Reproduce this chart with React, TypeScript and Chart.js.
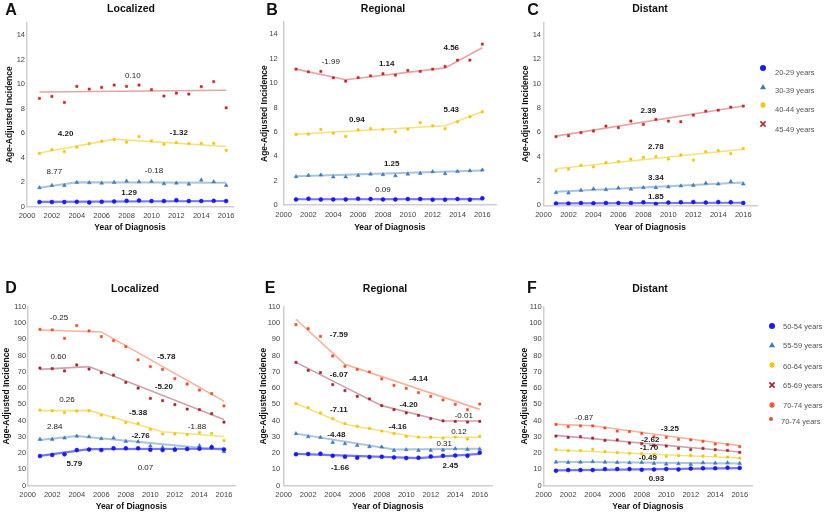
import React, { useEffect, useRef } from 'react';
import { Chart, registerables } from 'chart.js';
Chart.register(...registerables);

const FONT = '"Liberation Sans", Arial, sans-serif';
Chart.defaults.font.family = FONT;

const YEARS = [2001, 2002, 2003, 2004, 2005, 2006, 2007, 2008, 2009, 2010, 2011, 2012, 2013, 2014, 2015, 2016];
const X_TICK_STEP = 2;
const X_TICK_LAST = 2016;

// ---- Panel A: Localized, ages 20-49 ----
const A_20_29 = [0.36, 0.36, 0.36, 0.38, 0.33, 0.38, 0.41, 0.46, 0.49, 0.44, 0.44, 0.52, 0.44, 0.44, 0.46, 0.44];
const A_20_29_FIT = [[2001, 0.37], [2016, 0.45]];
const A_30_39 = [1.53, 1.72, 1.72, 1.97, 1.94, 1.91, 1.97, 2.08, 2.02, 2.05, 1.86, 1.91, 1.83, 2.16, 2.02, 1.72];
const A_30_39_FIT = [[2001, 1.53], [2004, 1.97], [2016, 1.93]];
const A_40_44 = [4.34, 4.64, 4.48, 4.84, 5.14, 5.33, 5.46, 5.25, 5.71, 5.36, 5.08, 5.22, 5.14, 5.16, 5.16, 4.59];
const A_40_44_FIT = [[2001, 4.37], [2007, 5.5], [2016, 4.9]];
const A_45_49 = [8.83, 8.99, 8.5, 9.81, 9.59, 9.73, 9.92, 9.81, 9.92, 9.54, 9.02, 9.26, 9.18, 9.78, 10.19, 8.06];
const A_45_49_FIT = [[2001, 9.35], [2016, 9.49]];
const A_APC = [
  { text: '0.10', x: 2008.5, y: 10.7, bold: false },
  { text: '4.20', x: 2003.1, y: 5.9, bold: true },
  { text: '-1.32', x: 2012.2, y: 6.05, bold: true },
  { text: '8.77', x: 2002.2, y: 2.8, bold: false },
  { text: '-0.18', x: 2010.2, y: 2.9, bold: false },
  { text: '1.29', x: 2008.2, y: 1.1, bold: true },
];

// ---- Panel B: Regional, ages 20-49 ----
const B_20_29 = [0.46, 0.52, 0.46, 0.46, 0.46, 0.52, 0.49, 0.46, 0.46, 0.49, 0.49, 0.44, 0.44, 0.49, 0.44, 0.55];
const B_20_29_FIT = [[2001, 0.47], [2016, 0.48]];
const B_30_39 = [2.32, 2.43, 2.46, 2.3, 2.3, 2.43, 2.54, 2.49, 2.4, 2.54, 2.6, 2.73, 2.57, 2.76, 2.81, 2.87];
const B_30_39_FIT = [[2001, 2.36], [2016, 2.84]];
const B_40_44 = [5.79, 5.82, 6.2, 5.9, 5.63, 6.17, 6.26, 6.2, 6.01, 6.23, 6.75, 6.5, 6.26, 6.83, 7.24, 7.65];
const B_40_44_FIT = [[2001, 5.8], [2013, 6.5], [2016, 7.65]];
const B_45_49 = [11.15, 10.93, 10.96, 10.44, 10.16, 10.46, 10.6, 10.77, 10.66, 11.04, 10.96, 11.15, 11.37, 11.89, 11.89, 13.2];
const B_45_49_FIT = [[2001, 11.15], [2005, 10.28], [2013, 11.25], [2016, 12.9]];
const B_APC = [
  { text: '-1.99', x: 2003.8, y: 11.75, bold: false },
  { text: '1.14', x: 2008.3, y: 11.56, bold: true },
  { text: '4.56', x: 2013.5, y: 12.92, bold: true },
  { text: '0.94', x: 2005.9, y: 7.02, bold: true },
  { text: '5.43', x: 2013.5, y: 7.79, bold: true },
  { text: '1.25', x: 2008.7, y: 3.36, bold: true },
  { text: '0.09', x: 2008.0, y: 1.23, bold: false },
];

// ---- Panel C: Distant, ages 20-49 ----
const C_20_29 = [0.14, 0.14, 0.19, 0.16, 0.19, 0.19, 0.19, 0.25, 0.11, 0.22, 0.25, 0.27, 0.22, 0.27, 0.25, 0.19];
const C_20_29_FIT = [[2001, 0.16], [2016, 0.21]];
const C_30_39 = [1.04, 1.01, 1.23, 1.34, 1.29, 1.42, 1.32, 1.45, 1.45, 1.51, 1.59, 1.64, 1.81, 1.75, 1.95, 1.75];
const C_30_39_FIT = [[2001, 1.12], [2016, 1.88]];
const C_40_44 = [2.85, 2.98, 3.28, 3.15, 3.5, 3.59, 3.8, 3.93, 3.99, 3.8, 4.13, 3.71, 4.4, 4.49, 4.25, 4.66];
const C_40_44_FIT = [[2001, 3.0], [2016, 4.6]];
const C_45_49 = [5.63, 5.71, 5.96, 6.1, 6.51, 6.37, 6.92, 6.64, 7.05, 6.92, 6.86, 7.4, 7.73, 7.81, 8.06, 8.15];
const C_45_49_FIT = [[2001, 5.68], [2016, 8.15]];
const C_APC = [
  { text: '2.39', x: 2008.4, y: 7.78, bold: true },
  { text: '2.78', x: 2009.0, y: 4.79, bold: true },
  { text: '3.34', x: 2009.0, y: 2.27, bold: true },
  { text: '1.85', x: 2009.0, y: 0.68, bold: true },
];

// ---- Panel D: Localized, ages 50-74 ----
const D_50_54 = [18.2, 18.9, 19.3, 21.9, 22.3, 21.9, 23.0, 23.0, 23.0, 22.1, 21.9, 22.1, 22.5, 22.7, 23.6, 22.3];
const D_50_54_FIT = [[2001, 18.3], [2005, 22.5], [2016, 22.7]];
const D_55_59 = [28.5, 28.5, 29.3, 30.5, 30.1, 28.9, 29.3, 27.3, 27.0, 24.4, 23.6, 22.7, 22.7, 24.6, 24.0, 20.9];
const D_55_59_FIT = [[2001, 28.1], [2004, 30.6], [2016, 21.9]];
const D_60_64 = [46.5, 46.1, 44.9, 45.9, 46.1, 43.4, 42.0, 38.9, 38.3, 34.6, 31.8, 31.8, 31.4, 32.6, 32.2, 27.7];
const D_60_64_FIT = [[2001, 46.1], [2005, 46.3], [2011, 33.2], [2016, 30.2]];
const D_65_69 = [72.3, 71.9, 70.5, 74.2, 71.7, 69.5, 68.0, 63.5, 60.0, 53.7, 52.3, 49.8, 47.1, 46.7, 44.3, 39.1];
const D_65_69_FIT = [[2001, 71.5], [2005, 73.2], [2016, 40.7]];
const D_70_74 = [96.1, 95.7, 90.6, 98.4, 95.1, 91.6, 89.1, 85.5, 77.3, 73.2, 71.5, 65.8, 62.5, 58.8, 56.6, 49.0];
const D_70_74_FIT = [[2001, 95.7], [2006, 94.5], [2016, 52.0]];
const D_APC = [
  { text: '-0.25', x: 2002.55, y: 102.9, bold: false },
  { text: '0.60', x: 2002.5, y: 79.3, bold: false },
  { text: '-5.78', x: 2011.3, y: 79.3, bold: true },
  { text: '-5.20', x: 2011.1, y: 60.5, bold: true },
  { text: '0.26', x: 2003.2, y: 52.7, bold: false },
  { text: '-5.38', x: 2009.0, y: 44.9, bold: true },
  { text: '-1.88', x: 2013.8, y: 36.3, bold: false },
  { text: '2.84', x: 2002.2, y: 36.3, bold: false },
  { text: '-2.76', x: 2009.2, y: 30.5, bold: true },
  { text: '5.79', x: 2003.8, y: 13.3, bold: true },
  { text: '0.07', x: 2009.6, y: 10.7, bold: false },
];

// ---- Panel E: Regional, ages 50-74 ----
const E_50_54 = [19.3, 19.5, 19.7, 18.4, 17.8, 17.2, 17.6, 17.8, 17.4, 17.0, 17.2, 18.0, 18.4, 18.6, 18.4, 20.3];
const E_50_54_FIT = [[2001, 19.6], [2011, 17.0], [2016, 19.5]];
const E_55_59 = [32.0, 30.1, 29.7, 26.6, 25.8, 24.8, 24.0, 23.8, 21.7, 22.1, 21.7, 21.7, 21.9, 22.7, 22.3, 22.5];
const E_55_59_FIT = [[2001, 32.0], [2009, 22.2], [2016, 22.7]];
const E_60_64 = [50.4, 48.0, 44.7, 41.2, 38.1, 36.5, 35.2, 33.6, 32.0, 30.3, 29.9, 29.9, 29.3, 29.9, 28.7, 30.3];
const E_60_64_FIT = [[2001, 50.5], [2005, 37.8], [2011, 29.6], [2016, 29.8]];
const E_65_69 = [75.8, 70.9, 69.5, 62.1, 58.4, 54.9, 53.3, 49.2, 46.7, 44.7, 43.2, 41.2, 39.8, 39.5, 39.1, 39.5];
const E_65_69_FIT = [[2001, 75.8], [2008, 49.2], [2013, 39.8], [2016, 39.8]];
const E_70_74 = [99.0, 96.5, 91.8, 79.7, 73.4, 71.5, 69.9, 65.6, 61.7, 59.8, 57.2, 54.9, 52.7, 50.0, 46.7, 50.2];
const E_70_74_FIT = [[2001, 102.3], [2005, 74.6], [2016, 46.9]];
const E_APC = [
  { text: '-7.59', x: 2004.5, y: 92.6, bold: true },
  { text: '-6.07', x: 2004.5, y: 68.0, bold: true },
  { text: '-4.14', x: 2011.0, y: 66.0, bold: true },
  { text: '-7.11', x: 2004.5, y: 46.5, bold: true },
  { text: '-4.20', x: 2010.2, y: 49.6, bold: true },
  { text: '-0.01', x: 2014.7, y: 42.8, bold: false },
  { text: '-4.48', x: 2004.3, y: 31.4, bold: true },
  { text: '-4.16', x: 2009.3, y: 36.3, bold: true },
  { text: '0.12', x: 2014.3, y: 33.0, bold: false },
  { text: '0.31', x: 2013.1, y: 25.6, bold: false },
  { text: '-1.66', x: 2004.6, y: 11.3, bold: true },
  { text: '2.45', x: 2013.6, y: 12.3, bold: true },
];

// ---- Panel F: Distant, ages 50-74 ----
const F_50_54 = [9.2, 9.6, 9.6, 9.6, 10.2, 10.2, 10.2, 9.8, 10.0, 10.2, 10.0, 10.5, 10.7, 10.7, 11.1, 10.9];
const F_50_54_FIT = [[2001, 9.4], [2016, 10.8]];
const F_55_59 = [14.5, 14.3, 14.5, 14.8, 14.5, 14.3, 14.1, 14.3, 13.7, 13.3, 13.5, 13.1, 14.1, 13.9, 14.1, 13.7];
const F_55_59_FIT = [[2001, 14.7], [2016, 13.7]];
const F_60_64 = [22.1, 21.5, 21.5, 22.3, 20.9, 20.3, 19.9, 19.7, 19.3, 18.0, 18.4, 18.6, 18.2, 18.6, 17.6, 17.0];
const F_60_64_FIT = [[2001, 21.9], [2016, 17.0]];
const F_65_69 = [30.5, 29.7, 30.1, 29.3, 27.9, 28.1, 26.2, 25.8, 24.6, 24.4, 23.0, 22.1, 23.0, 22.1, 21.7, 20.5];
const F_65_69_FIT = [[2001, 30.9], [2016, 20.75]];
const F_70_74 = [37.7, 36.3, 36.7, 36.7, 35.5, 33.6, 33.2, 32.2, 30.1, 29.7, 28.5, 28.1, 27.3, 25.6, 25.2, 24.0];
const F_70_74_FIT = [[2001, 37.7], [2004, 36.8], [2016, 24.5]];
const F_APC = [
  { text: '-0.87', x: 2003.3, y: 42.0, bold: false },
  { text: '-3.25', x: 2010.3, y: 34.8, bold: true },
  { text: '-2.62', x: 2008.7, y: 28.5, bold: true },
  { text: '-1.70', x: 2008.6, y: 23.0, bold: true },
  { text: '-0.49', x: 2008.5, y: 17.0, bold: true },
  { text: '0.93', x: 2009.2, y: 4.5, bold: true },
];

const LEGEND_YOUNG = ['20-29 years', '30-39 years', '40-44 years', '45-49 years'];
const LEGEND_OLD = ['50-54 years', '55-59 years', '60-64 years', '65-69 years', '70-74 years', '70-74 years'];

// ---- styles ----
const STYLE: Record<string, any> = {
  blue: { pt: '#1a1aee', line: 'rgba(95,95,250,0.85)', lw: 2.2, ps: 'circle', r: 2.0 },
  steel: { pt: '#3f7bb8', line: '#a9c4e0', lw: 2, ps: 'triangle', r: 2.2 },
  yellow: { pt: '#f2c400', line: '#f6e182', lw: 1.6, ps: 'rect', r: 1.6 },
  red: { pt: '#c0282d', line: '#e9a3a3', lw: 1.6, ps: 'rect', r: 1.6 },
  dred: { pt: '#a2222e', line: '#cfa1aa', lw: 1.6, ps: 'rect', r: 1.6 },
  orange: { pt: '#f04a26', line: '#f7b19c', lw: 1.6, ps: 'rect', r: 1.6 },
};

type Panel = {
  letter: string; name: string;
  canvas: number[]; area: { l: number; r: number; t: number; b: number };
  xmax: number; ymax: number; ystep: number; ytop: number;
  yTitleX: number; xTitleY: number; tickPad: number;
  series: { kind: string; pts: number[]; fit: number[][] }[];
  apc: { text: string; x: number; y: number; bold: boolean }[];
  letterPos: number[]; namePos: number[];
  legend?: { labels: string[]; marks: string[]; mx: number[]; my: number[]; tx: number[]; ty: number[] };
};

const PANELS: Panel[] = [
  {
    letter: 'A', name: 'Localized', canvas: [0, 0, 265, 245], area: { l: 27, r: 233, t: 22.8, b: 206.5 },
    xmax: 2016.55, ymax: 15, ystep: 2, ytop: 14, yTitleX: 10, xTitleY: 228, tickPad: 2,
    series: [
      { kind: 'blue', pts: A_20_29, fit: A_20_29_FIT },
      { kind: 'steel', pts: A_30_39, fit: A_30_39_FIT },
      { kind: 'yellow', pts: A_40_44, fit: A_40_44_FIT },
      { kind: 'red', pts: A_45_49, fit: A_45_49_FIT },
    ],
    apc: A_APC, letterPos: [11, 10], namePos: [131, 8],
  },
  {
    letter: 'B', name: 'Regional', canvas: [255, 0, 270, 245], area: { l: 283.6, r: 496, t: 22.2, b: 205 },
    xmax: 2017.1, ymax: 15, ystep: 2, ytop: 14, yTitleX: 265, xTitleY: 228, tickPad: 6,
    series: [
      { kind: 'blue', pts: B_20_29, fit: B_20_29_FIT },
      { kind: 'steel', pts: B_30_39, fit: B_30_39_FIT },
      { kind: 'yellow', pts: B_40_44, fit: B_40_44_FIT },
      { kind: 'red', pts: B_45_49, fit: B_45_49_FIT },
    ],
    apc: B_APC, letterPos: [272, 10], namePos: [383, 8],
  },
  {
    letter: 'C', name: 'Distant', canvas: [515, 0, 310, 245], area: { l: 543.5, r: 757, t: 22.6, b: 205.3 },
    xmax: 2017.1, ymax: 15, ystep: 2, ytop: 14, yTitleX: 526, xTitleY: 228, tickPad: 2.5,
    series: [
      { kind: 'blue', pts: C_20_29, fit: C_20_29_FIT },
      { kind: 'steel', pts: C_30_39, fit: C_30_39_FIT },
      { kind: 'yellow', pts: C_40_44, fit: C_40_44_FIT },
      { kind: 'red', pts: C_45_49, fit: C_45_49_FIT },
    ],
    apc: C_APC, letterPos: [533, 10], namePos: [650, 8],
    legend: {
      labels: LEGEND_YOUNG, marks: ['circle:blue', 'triangle:steel', 'star:yellow', 'crossRot:red'],
      mx: [763, 763, 763, 763], my: [68, 87, 105, 124], tx: [775, 775, 775, 775], ty: [73, 91, 110, 130],
    },
  },
  {
    letter: 'D', name: 'Localized', canvas: [0, 255, 262, 260], area: { l: 27.7, r: 235, t: 306.7, b: 485.7 },
    xmax: 2016.9, ymax: 110, ystep: 10, ytop: 110, yTitleX: 7, xTitleY: 507, tickPad: 1.5,
    series: [
      { kind: 'blue', pts: D_50_54, fit: D_50_54_FIT },
      { kind: 'steel', pts: D_55_59, fit: D_55_59_FIT },
      { kind: 'yellow', pts: D_60_64, fit: D_60_64_FIT },
      { kind: 'dred', pts: D_65_69, fit: D_65_69_FIT },
      { kind: 'orange', pts: D_70_74, fit: D_70_74_FIT },
    ],
    apc: D_APC, letterPos: [11, 288], namePos: [135, 288],
  },
  {
    letter: 'E', name: 'Regional', canvas: [255, 255, 270, 260], area: { l: 283.7, r: 492, t: 306.7, b: 485.7 },
    xmax: 2017, ymax: 110, ystep: 10, ytop: 110, yTitleX: 264, xTitleY: 507, tickPad: 3.5,
    series: [
      { kind: 'blue', pts: E_50_54, fit: E_50_54_FIT },
      { kind: 'steel', pts: E_55_59, fit: E_55_59_FIT },
      { kind: 'yellow', pts: E_60_64, fit: E_60_64_FIT },
      { kind: 'dred', pts: E_65_69, fit: E_65_69_FIT },
      { kind: 'orange', pts: E_70_74, fit: E_70_74_FIT },
    ],
    apc: E_APC, letterPos: [270, 288], namePos: [385, 288],
  },
  {
    letter: 'F', name: 'Distant', canvas: [515, 255, 310, 260], area: { l: 543.7, r: 752, t: 306.7, b: 485.7 },
    xmax: 2017, ymax: 110, ystep: 10, ytop: 110, yTitleX: 525, xTitleY: 507, tickPad: 2,
    series: [
      { kind: 'blue', pts: F_50_54, fit: F_50_54_FIT },
      { kind: 'steel', pts: F_55_59, fit: F_55_59_FIT },
      { kind: 'yellow', pts: F_60_64, fit: F_60_64_FIT },
      { kind: 'dred', pts: F_65_69, fit: F_65_69_FIT },
      { kind: 'orange', pts: F_70_74, fit: F_70_74_FIT },
    ],
    apc: F_APC, letterPos: [532, 288], namePos: [650, 288],
    legend: {
      labels: LEGEND_OLD, marks: ['circle:blue', 'triangle:steel', 'star:yellow', 'crossRot:dred', 'star:orange', 'dot:orange'],
      mx: [772, 772, 772, 772, 772, 771], my: [326, 345, 365, 385, 405, 419],
      tx: [783, 783, 783, 783, 783, 781], ty: [327, 346, 367, 386, 406, 422],
    },
  },
];

function drawMarker(ctx: CanvasRenderingContext2D, shape: string, color: string, x: number, y: number) {
  ctx.save();
  ctx.fillStyle = color;
  ctx.strokeStyle = color;
  ctx.lineWidth = 1.2;
  ctx.beginPath();
  if (shape === 'circle') {
    ctx.arc(x, y, 3, 0, Math.PI * 2);
    ctx.fill();
  } else if (shape === 'dot') {
    ctx.arc(x, y, 2, 0, Math.PI * 2);
    ctx.fill();
  } else if (shape === 'triangle') {
    ctx.moveTo(x, y - 3);
    ctx.lineTo(x + 3, y + 2.2);
    ctx.lineTo(x - 3, y + 2.2);
    ctx.closePath();
    ctx.fill();
  } else if (shape === 'star') {
    for (let k = 0; k < 4; k++) {
      const a = (k * Math.PI) / 4;
      ctx.moveTo(x - 3 * Math.cos(a), y - 3 * Math.sin(a));
      ctx.lineTo(x + 3 * Math.cos(a), y + 3 * Math.sin(a));
    }
    ctx.stroke();
  } else if (shape === 'crossRot') {
    ctx.moveTo(x - 2.6, y - 2.6);
    ctx.lineTo(x + 2.6, y + 2.6);
    ctx.moveTo(x + 2.6, y - 2.6);
    ctx.lineTo(x - 2.6, y + 2.6);
    ctx.lineWidth = 1.6;
    ctx.stroke();
  }
  ctx.restore();
}

function makeChart(canvas: HTMLCanvasElement, p: Panel) {
  const [cl, ct, cw, ch] = p.canvas;
  const yTitleSize = 8.5;
  const half = (yTitleSize * 1.2) / 2;
  const yW = p.area.l - cl;
  const padTop = p.area.t - ct;
  const padRight = cl + cw - p.area.r;
  const xH = p.xTitleY - p.area.b + half + 2;
  const padBottom = ct + ch - p.area.b - xH;
  const yTitlePad = Math.max(0, p.yTitleX - cl - half);

  const datasets: any[] = [];
  p.series.forEach((s) => {
    const st = STYLE[s.kind];
    datasets.push({
      data: YEARS.map((x, i) => ({ x, y: s.pts[i] })),
      pointStyle: st.ps,
      pointRadius: st.r,
      backgroundColor: st.pt,
      borderColor: st.pt,
      borderWidth: 0.5,
      showLine: false,
      order: 0,
    });
  });
  p.series.forEach((s) => {
    const st = STYLE[s.kind];
    datasets.push({
      data: s.fit.map(([x, y]) => ({ x, y })),
      showLine: true,
      pointRadius: 0,
      borderColor: st.line,
      borderWidth: st.lw,
      tension: 0,
      order: 1,
    });
  });

  const overlay = {
    id: 'overlay' + p.letter,
    afterDatasetsDraw(chart: any) {
      const ctx = chart.ctx as CanvasRenderingContext2D;
      const xs = chart.scales.x;
      const ys = chart.scales.y;
      ctx.save();
      ctx.fillStyle = '#1a1a1a';
      ctx.textAlign = 'center';
      ctx.textBaseline = 'middle';
      p.apc.forEach((l) => {
        ctx.font = `${l.bold ? 'bold ' : ''}8px ${FONT}`;
        ctx.fillText(l.text, xs.getPixelForValue(l.x), ys.getPixelForValue(l.y));
      });
      ctx.restore();
      if (p.legend) {
        const lg = p.legend;
        ctx.save();
        ctx.font = `7.5px ${FONT}`;
        ctx.textAlign = 'left';
        ctx.textBaseline = 'middle';
        lg.labels.forEach((lab, i) => {
          const [shape, kind] = lg.marks[i].split(':');
          drawMarker(ctx, shape, STYLE[kind].pt, lg.mx[i] - cl, lg.my[i] - ct);
          ctx.fillStyle = '#555';
          ctx.fillText(lab, lg.tx[i] - cl, lg.ty[i] - ct);
        });
        ctx.restore();
      }
    },
  };

  const border = { display: true, color: '#cfcfcf', width: 1.5 };
  return new Chart(canvas, {
    type: 'scatter',
    data: { datasets },
    plugins: [overlay],
    options: {
      responsive: false,
      animation: false,
      events: [],
      layout: { padding: { left: 0, top: padTop, right: padRight, bottom: padBottom } },
      plugins: { legend: { display: false }, tooltip: { enabled: false }, title: { display: false } },
      scales: {
        x: {
          type: 'linear',
          min: 2000,
          max: p.xmax,
          bounds: 'data',
          grid: { display: false, drawTicks: false },
          border,
          afterBuildTicks: (s: any) => {
            s.ticks = s.ticks.filter((t: any) => t.value <= X_TICK_LAST && Math.abs(t.value % X_TICK_STEP) < 1e-6);
          },
          ticks: {
            stepSize: X_TICK_STEP,
            includeBounds: false,
            autoSkip: false,
            maxRotation: 0,
            font: { size: 7.5 },
            color: '#444',
            padding: 5,
            callback: (v: any) => String(v),
          },
          title: {
            display: true,
            text: 'Year of Diagnosis',
            font: { size: yTitleSize, weight: 'bold' },
            color: '#111',
            padding: { top: 0, bottom: 2 },
          },
          afterFit: (s: any) => { s.height = xH; },
        },
        y: {
          type: 'linear',
          min: 0,
          max: p.ymax,
          bounds: 'data',
          grid: { display: false, drawTicks: false },
          border,
          afterBuildTicks: (s: any) => {
            s.ticks = s.ticks.filter((t: any) => t.value <= p.ytop && Math.abs(t.value % p.ystep) < 1e-6);
          },
          ticks: {
            stepSize: p.ystep,
            includeBounds: false,
            font: { size: 7.5 },
            color: '#444',
            padding: p.tickPad,
          },
          title: {
            display: true,
            text: 'Age-Adjusted Incidence',
            font: { size: yTitleSize, weight: 'bold' },
            color: '#111',
            padding: { top: yTitlePad, bottom: 0 },
          },
          afterFit: (s: any) => { s.width = yW; },
        },
      },
    } as any,
  });
}

export default function App() {
  const refs = useRef<(HTMLCanvasElement | null)[]>([]);
  useEffect(() => {
    const charts = PANELS.map((p, i) => makeChart(refs.current[i] as HTMLCanvasElement, p));
    return () => charts.forEach((c) => c.destroy());
  }, []);
  return (
    <div style={{ position: 'fixed', left: 0, top: 0, width: 825, height: 515, background: '#fff', overflow: 'hidden', fontFamily: FONT }}>
      {PANELS.map((p, i) => (
        <React.Fragment key={p.letter}>
          <canvas
            ref={(el) => { refs.current[i] = el; }}
            width={p.canvas[2]}
            height={p.canvas[3]}
            style={{ position: 'absolute', left: p.canvas[0], top: p.canvas[1], width: p.canvas[2], height: p.canvas[3] }}
          />
          <div style={{ position: 'absolute', left: p.letterPos[0], top: p.letterPos[1], transform: 'translate(-50%,-50%)', fontSize: 16, fontWeight: 'bold', color: '#111', lineHeight: 1 }}>{p.letter}</div>
          <div style={{ position: 'absolute', left: p.namePos[0], top: p.namePos[1], transform: 'translate(-50%,-50%)', fontSize: 10.5, fontWeight: 'bold', color: '#111', lineHeight: 1, whiteSpace: 'nowrap' }}>{p.name}</div>
        </React.Fragment>
      ))}
    </div>
  );
}
